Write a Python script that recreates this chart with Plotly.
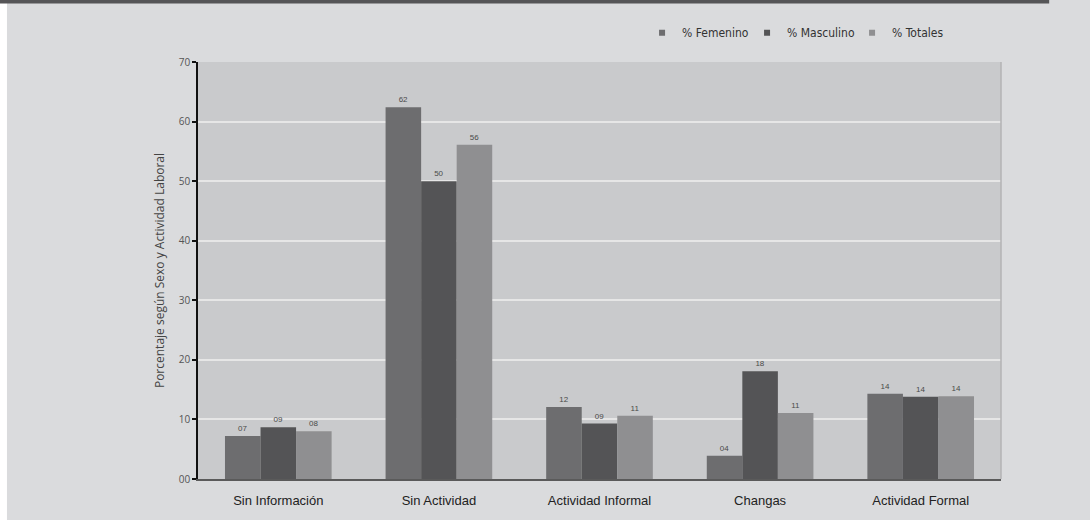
import plotly.graph_objects as go

categories = ["Sin Información", "Sin Actividad", "Actividad Informal", "Changas", "Actividad Formal"]
femenino = [7.2, 62.4, 12.1, 3.9, 14.3]
masculino = [8.7, 50.0, 9.3, 18.1, 13.8]
totales = [8.0, 56.1, 10.6, 11.1, 13.9]
fem_labels = ["07", "62", "12", "04", "14"]
masc_labels = ["09", "50", "09", "18", "14"]
tot_labels = ["08", "56", "11", "11", "14"]
series_names = ["% Femenino", "% Masculino", "% Totales"]
y_ticks = [0, 10, 20, 30, 40, 50, 60, 70]
y_ticktext = ["00", "10", "20", "30", "40", "50", "60", "70"]

colors = ["#6d6d6f", "#545456", "#8f8f91"]

fig = go.Figure()
for name, vals, labels, col in zip(series_names, [femenino, masculino, totales],
                                   [fem_labels, masc_labels, tot_labels], colors):
    fig.add_trace(go.Bar(
        x=categories, y=vals, name=name, text=labels,
        textposition="outside", cliponaxis=False,
        textfont=dict(size=8, color="#4a4a4a", family="Liberation Sans"),
        marker=dict(color=col, line=dict(width=0)),
        showlegend=False,
    ))
    fig.add_trace(go.Scatter(
        x=[None], y=[None], mode="markers", name=name,
        marker=dict(symbol="square", size=6, color=col),
        showlegend=True,
    ))

fig.update_layout(
    width=1090, height=520,
    margin=dict(l=198, r=89, t=62, b=41),
    paper_bgcolor="#dadbdd",
    plot_bgcolor="#c9cacc",
    barmode="group",
    bargap=0.336,
    bargroupgap=0,
    font=dict(family="Open Sans", color="#444"),
    legend=dict(
        orientation="h", x=0.553, y=1.07, xanchor="left", yanchor="middle",
        font=dict(size=12, family="DejaVu Sans Condensed", color="#333"),
        bgcolor="rgba(0,0,0,0)", itemwidth=30, tracegroupgap=0,
        entrywidth=60, entrywidthmode="pixels",
    ),
    xaxis=dict(
        showgrid=False, showline=True, linecolor="#5a5a5a", linewidth=2,
        ticks="", tickfont=dict(size=13, family="Liberation Sans", color="#222"),
        ticklabelstandoff=8,
    ),
    yaxis=dict(
        range=[0, 70], tickvals=y_ticks, ticktext=y_ticktext,
        showgrid=True, gridcolor="#e6e6e6", gridwidth=2,
        showline=True, linecolor="#111", linewidth=1.5,
        ticks="outside", ticklen=4, tickcolor="#111", tickwidth=1.5,
        tickfont=dict(size=10, family="Open Sans", color="#555"),
        zeroline=False,
        title=dict(text="Porcentaje según Sexo y Actividad Laboral",
                   font=dict(size=12, family="Open Sans", color="#444"), standoff=12),
    ),
    shapes=[
        dict(type="rect", xref="paper", yref="paper", x0=-0.2466, x1=-0.2379, y0=-0.2, y1=1.2,
             fillcolor="#ffffff", line=dict(width=0), layer="above"),
        dict(type="rect", xref="paper", yref="paper", x0=-0.2466, x1=1.06, y0=1.14, y1=1.2,
             fillcolor="#555557", line=dict(width=0), layer="above"),
        dict(type="line", xref="paper", yref="paper", x0=1, x1=1, y0=0, y1=1,
             line=dict(color="#b3b3b5", width=1.5), layer="above"),
    ],
)

fig.write_html("out.html")
